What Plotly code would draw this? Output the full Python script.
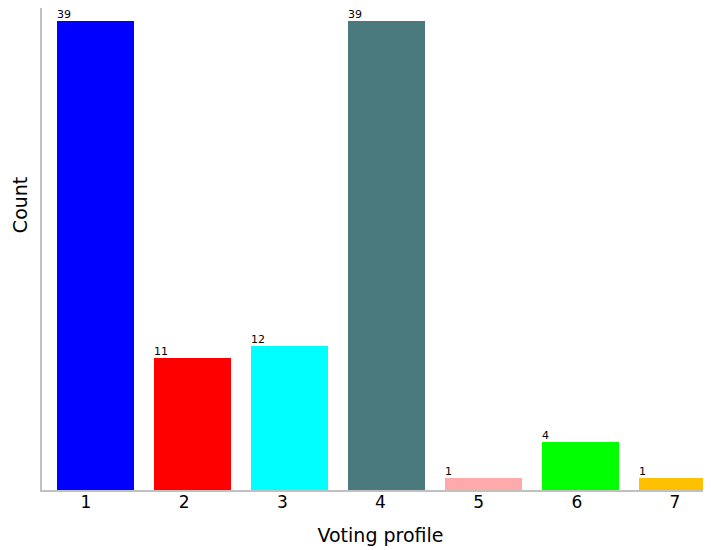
import plotly.graph_objects as go

categories = [1, 2, 3, 4, 5, 6, 7]
counts = [39, 11, 12, 39, 1, 4, 1]
colors = ["#0000ff", "#ff0000", "#00ffff", "#4a7a7e", "#ffaaaa", "#00ff00", "#ffc000"]
tick_labels = ["1", "2", "3", "4", "5", "6", "7"]

bar_w = 0.79

fig = go.Figure()
fig.add_trace(go.Bar(
    x=categories, y=counts, width=bar_w,
    marker=dict(color=colors, line=dict(width=0)),
    showlegend=False, hoverinfo="skip",
))
# invisible trace carrying the tick-label axis
fig.add_trace(go.Scatter(
    x=categories, y=counts, xaxis="x2", mode="markers",
    marker=dict(opacity=0), showlegend=False, hoverinfo="skip",
))

for c, v in zip(categories, counts):
    fig.add_annotation(
        x=c - bar_w / 2, y=v, text=str(v), showarrow=False,
        xanchor="left", yanchor="bottom", xshift=-2, yshift=-2,
        font=dict(family="DejaVu Sans", size=11, color="#000000"),
    )

fig.add_annotation(
    x=0, y=0.591, xref="paper", yref="paper", text="Count", textangle=-90,
    showarrow=False, xanchor="center", yanchor="middle", xshift=-22,
    font=dict(family="DejaVu Sans", size=19, color="#000000"),
)

fig.update_layout(
    width=711, height=550,
    margin=dict(l=34, r=0, t=0, b=68),
    plot_bgcolor="white", paper_bgcolor="white",
    bargap=0,
    xaxis=dict(
        range=[0.448, 7.427], showticklabels=False,
        showgrid=False, zeroline=False, showline=True, linecolor="#c0c0c0", linewidth=2,
        ticks="",
        title=dict(text="Voting profile", font=dict(family="DejaVu Sans", size=19, color="#000000"), standoff=38),
    ),
    xaxis2=dict(
        overlaying="x", side="bottom", anchor="y",
        range=[0.552, 7.448], tickvals=categories, ticktext=tick_labels,
        showgrid=False, zeroline=False, showline=False, ticks="",
        tickfont=dict(family="DejaVu Sans", size=17, color="#000000"),
    ),
    yaxis=dict(
        range=[0, 40.07], showticklabels=False, showgrid=False, zeroline=False,
        showline=True, linecolor="#c0c0c0", linewidth=2, ticks="",
    ),
)

fig.write_html("out.html")
